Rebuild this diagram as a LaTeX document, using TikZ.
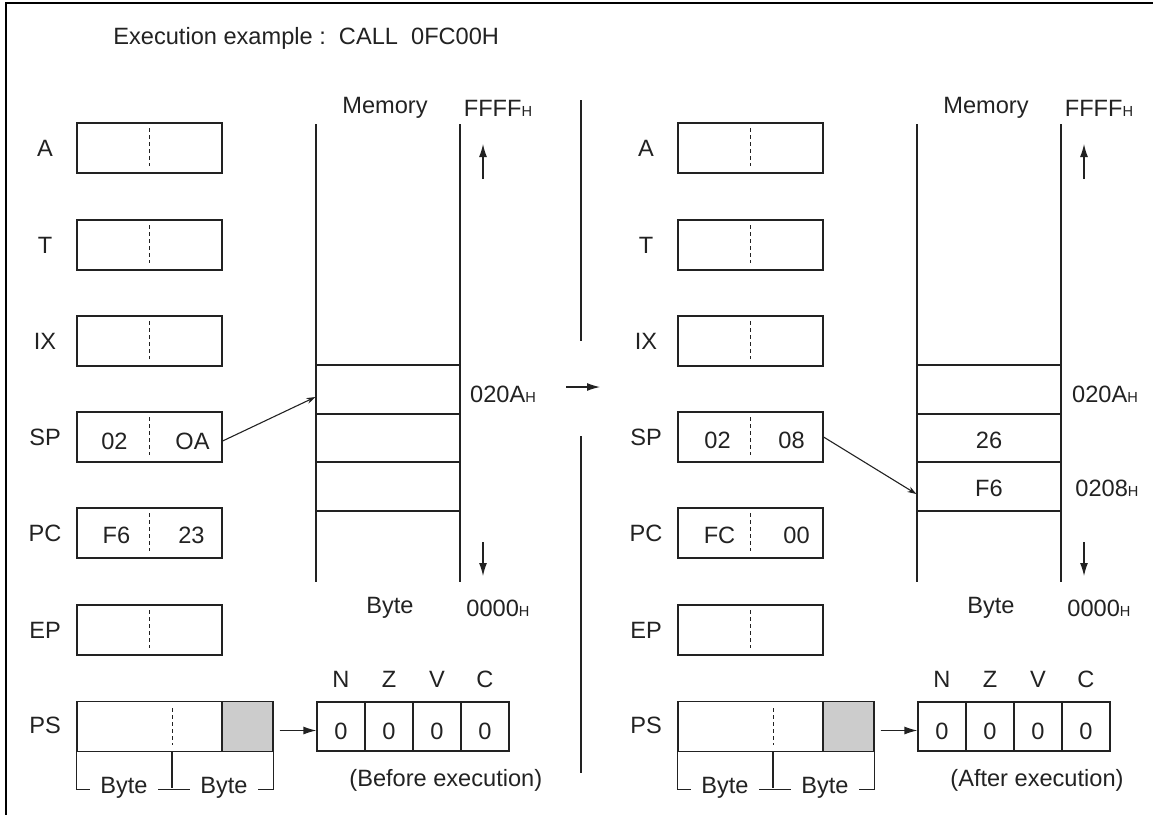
\documentclass[tikz,border=0pt]{standalone}
\usepackage{fontspec}
\setmainfont{Liberation Sans}
\usetikzlibrary{arrows.meta,positioning,calc}
\definecolor{psgray}{HTML}{CCCCCC}
\definecolor{ink}{HTML}{222222}
\tikzset{
  regbox/.style={draw=ink, line width=0.6pt, minimum width=72.5pt, minimum height=25pt},
  regdiv/.style={draw=ink, dash pattern=on 2pt off 1.5pt, line width=0.45pt},
  memline/.style={draw=ink, line width=0.6pt},
  memcell/.style={draw=ink, line width=0.6pt, minimum width=72pt, minimum height=24.5pt},
  flagcell/.style={draw=ink, line width=0.6pt, minimum width=24pt, minimum height=24.5pt},
  arr/.style={-{Latex[length=6.5pt,width=4pt]}, draw=ink, fill=ink, line width=0.6pt},
  ptr/.style={-{Stealth[length=4.5pt,width=3pt]}, draw=ink, line width=0.55pt},
  bytelbl/.style={fill=white, inner xsep=5pt}
}
\newcommand{\hsfx}{{\fontsize{7.3}{9}\selectfont H}}

\begin{document}
\begin{tikzpicture}[x=0.5pt,y=-0.5pt,
    every node/.style={font=\fontsize{11.8}{14}\selectfont, text=ink, inner sep=0pt}]
  \useasboundingbox (0,0) rectangle (1153,815);
  % frame
  \draw[line width=1.3pt] (6,815) -- (6,3) -- (1153,3);
  \node[anchor=west] (title) at (113,38) {Execution example :\ \ CALL\ \ 0FC00H};

  % both panels: b = before, a = after
  \foreach \p/\dx in {b/0,a/601}{
    % registers
    \foreach \r/\y in {A/148,T/245,IX/341,SP/437,PC/533,EP/630}{
      \node[regbox] (\p\r) at ({149.5+\dx},\y) {};
      \node (\p\r-name) at ({45+\dx},\y) {\r};
      \draw[regdiv] (\p\r.north) ++(0,6) -- ++(0,38);
    }
    % PS with byte brackets
    \node[regbox, minimum width=98pt] (\p PS) at ({175+\dx},726.5) {};
    \node[regbox, fill=psgray, minimum width=25.5pt] (\p PSf) at ({247.5+\dx},726.5) {};
    \node (\p PS-name) at ({45+\dx},725) {PS};
    \draw[regdiv] ({172+\dx},708) -- ({172+\dx},745);
    \draw[memline] (\p PS.south west) -- ++(0,37) -- ($(\p PS.south east)+(0,37)$) -- (\p PS.south east);
    \draw[memline] ({172+\dx},751) -- ({172+\dx},788);
    \node[bytelbl] (\p byte1) at ({124+\dx},788) {Byte};
    \node[bytelbl] (\p byte2) at ({224+\dx},788) {Byte};

    % memory
    \draw[memline] ({316+\dx},124) -- ({316+\dx},582);
    \draw[memline] ({460+\dx},124) -- ({460+\dx},582);
    \foreach \k/\y in {1/389.5,2/438,3/486.5}
      \node[memcell] (\p m\k) at ({388+\dx},\y) {};
    \node (\p mem) at ({385+\dx},108) {Memory};
    \node (\p top) at ({498+\dx},108) {FFFF\hsfx};
    \node (\p byte) at ({390+\dx},608) {Byte};
    \node (\p bot) at ({498+\dx},608) {0000\hsfx};
    \coordinate (\p up1) at ({483+\dx},179);
    \coordinate (\p up2) at ({483+\dx},144);
    \coordinate (\p dn1) at ({483+\dx},542);
    \coordinate (\p dn2) at ({483+\dx},576);
    \draw[arr] (\p up1) -- (\p up2);
    \draw[arr] (\p dn1) -- (\p dn2);

    % flags
    \foreach \f [count=\i from 0] in {N,Z,V,C}{
      \node[flagcell] (\p f\f) at ({341+48*\i+\dx},726.5) {};
      \node (\p v\f) at ({341+48*\i+\dx},731) {0};
      \node (\p f\f-name) at ({341+48*\i+\dx},679) {\f};
    }
    \draw[arr, shorten <=3pt] ([yshift=-2pt]\p PSf.east) -- ([yshift=-2pt]\p fN.west);
  }

  % before execution
  \node (bSPh) at ($(bSP)+(-35,4)$) {02};
  \node (bSPl) at ($(bSP)+(43,4)$) {OA};
  \node (bPCh) at ($(bPC)+(-33,2)$) {F6};
  \node (bPCl) at ($(bPC)+(42,2)$) {23};
  \node (baddr) at (503,394) {020A\hsfx};
  \coordinate (bptr) at ($(bm1.west)!0.3!(bm1.south west)$);
  \draw[ptr] ([yshift=-2pt]bSP.east) -- (bptr);
  \node[anchor=west] (bcap) at (349,780) {(Before execution)};

  % middle
  \draw[memline] (581,100) -- (581,341);
  \draw[memline] (581,436) -- (581,773);
  \coordinate (mid1) at (566,387);
  \coordinate (mid2) at (600,387);
  \draw[arr] (mid1) -- (mid2);

  % after execution
  \node (aSPh) at ($(aSP)+(-33,3)$) {02};
  \node (aSPl) at ($(aSP)+(41,3)$) {08};
  \node (aPCh) at ($(aPC)+(-31,2)$) {FC};
  \node (aPCl) at ($(aPC)+(46,2)$) {00};
  \node (am2v) at ($(am2)+(0,2)$) {26};
  \node (am3v) at ($(am3)+(0,2)$) {F6};
  \node (aaddr) at (1105,394) {020A\hsfx};
  \node (aaddr2) at (1107,488) {0208\hsfx};
  \coordinate (aptr) at ($(am3.west)!0.3!(am3.south west)$);
  \draw[ptr] (aSP.east) -- (aptr);
  \node[anchor=west] (acap) at (950,780) {(After execution)};
\end{tikzpicture}
\end{document}
